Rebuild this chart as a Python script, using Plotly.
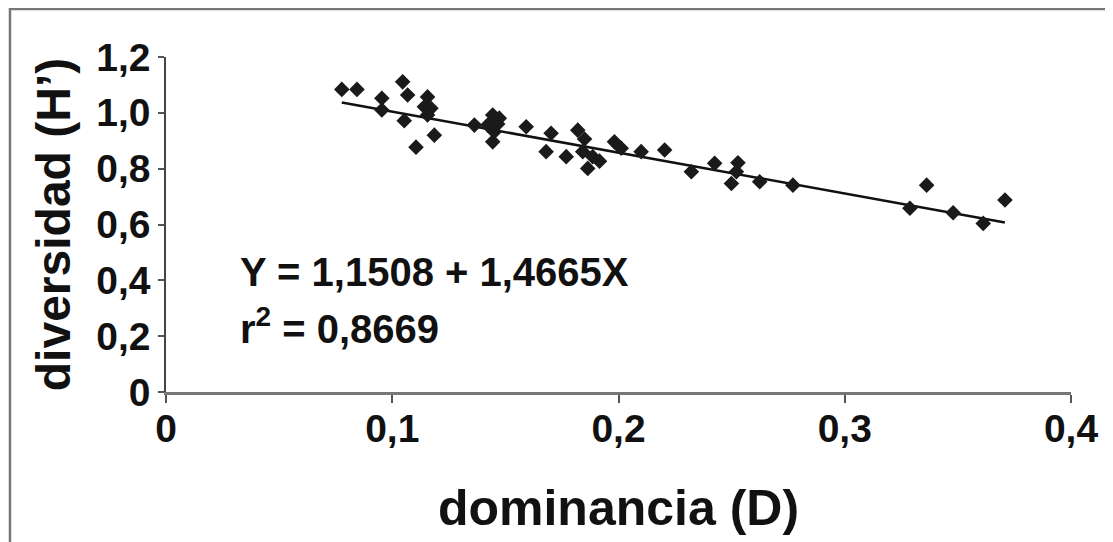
import plotly.graph_objects as go

# Data (dominancia D vs diversidad H')
dominancia = [0.0777, 0.0844, 0.1046, 0.1068, 0.0954, 0.0954, 0.1053, 0.1156, 0.1142, 0.1171,
              0.1156, 0.1186, 0.1105, 0.1363, 0.1444, 0.1422, 0.1466, 0.1451, 0.1444, 0.1473,
              0.1592, 0.1702, 0.1680, 0.1769, 0.1820, 0.1850, 0.1842, 0.1886, 0.1916, 0.1864,
              0.1982, 0.2012, 0.2100, 0.2204, 0.2322, 0.2425, 0.2528, 0.2521, 0.2499, 0.2624,
              0.2771, 0.3362, 0.3288, 0.3479, 0.3612, 0.3708]
diversidad = [1.084, 1.084, 1.111, 1.064, 1.052, 1.010, 0.972, 1.057, 1.022, 1.016,
              0.992, 0.920, 0.877, 0.956, 0.992, 0.956, 0.960, 0.932, 0.896, 0.981,
              0.950, 0.927, 0.861, 0.843, 0.938, 0.906, 0.861, 0.843, 0.827, 0.801,
              0.896, 0.873, 0.861, 0.867, 0.789, 0.819, 0.821, 0.789, 0.747, 0.753,
              0.741, 0.741, 0.658, 0.642, 0.604, 0.688]

# Regression coefficients
INTERCEPT = 1.1508
SLOPE = -1.4665
eq_text = "Y = 1,1508 + 1,4665X"
r2_text = "r<sup>2</sup> = 0,8669"

x_tick_vals = [0, 0.1, 0.2, 0.3, 0.4]
x_tick_text = ["0", "0,1", "0,2", "0,3", "0,4"]
y_tick_vals = [0, 0.2, 0.4, 0.6, 0.8, 1.0, 1.2]
y_tick_text = ["0", "0,2", "0,4", "0,6", "0,8", "1,0", "1,2"]

FONT = "Liberation Sans, Arial, sans-serif"

x_line = [min(dominancia), max(dominancia)]
y_line = [INTERCEPT + SLOPE * v for v in x_line]

fig = go.Figure()
fig.add_trace(go.Scatter(x=x_line, y=y_line, mode="lines",
                         line=dict(color="#111111", width=2.5), hoverinfo="skip"))
fig.add_trace(go.Scatter(x=dominancia, y=diversidad, mode="markers",
                         marker=dict(symbol="diamond", size=12, color="#1a1a1a",
                                     line=dict(width=0))))

fig.add_annotation(x=0.032, y=0.43, xref="x", yref="y", text=eq_text, showarrow=False,
                   xanchor="left", yanchor="middle",
                   font=dict(family=FONT, size=40, color="#111", weight="bold"))
fig.add_annotation(x=0.032, y=0.236, xref="x", yref="y", text=r2_text, showarrow=False,
                   xanchor="left", yanchor="middle",
                   font=dict(family=FONT, size=40, color="#111", weight="bold"))

# outer frame (only top and left visible in the crop)
fig.add_shape(type="rect", xref="paper", yref="paper",
              x0=-0.1724, x1=1.3, y0=-1.0, y1=1.1433,
              line=dict(color="#777777", width=2.5), layer="below")

fig.update_layout(
    width=1105, height=534,
    margin=dict(l=158, r=42, t=49, b=150, autoexpand=False),
    paper_bgcolor="white", plot_bgcolor="white",
    showlegend=False,
    font=dict(family=FONT, color="#111"),
)
fig.update_xaxes(range=[0, 0.4], tickvals=x_tick_vals, ticktext=x_tick_text,
                 showgrid=False, zeroline=False, showline=True, linecolor="#777777", linewidth=2.5,
                 ticks="outside", ticklen=8, tickcolor="#555555", tickwidth=1.5,
                 ticklabelstandoff=-8,
                 tickfont=dict(family=FONT, size=39, color="#111", weight="bold"),
                 title=dict(text="dominancia (D)", font=dict(family=FONT, size=50, color="#111", weight="bold"),
                            standoff=42),
                 automargin=False)
fig.update_yaxes(range=[0, 1.2], tickvals=y_tick_vals, ticktext=y_tick_text,
                 showgrid=False, zeroline=False, showline=True, linecolor="#444444", linewidth=1.5,
                 ticks="outside", ticklen=6, tickcolor="#555555", tickwidth=1.5,
                 tickfont=dict(family=FONT, size=39, color="#111", weight="bold"),
                 title=dict(text="diversidad (H’)", font=dict(family=FONT, size=48, color="#111", weight="bold"),
                            standoff=10),
                 automargin=False)

fig.write_html("out.html")
